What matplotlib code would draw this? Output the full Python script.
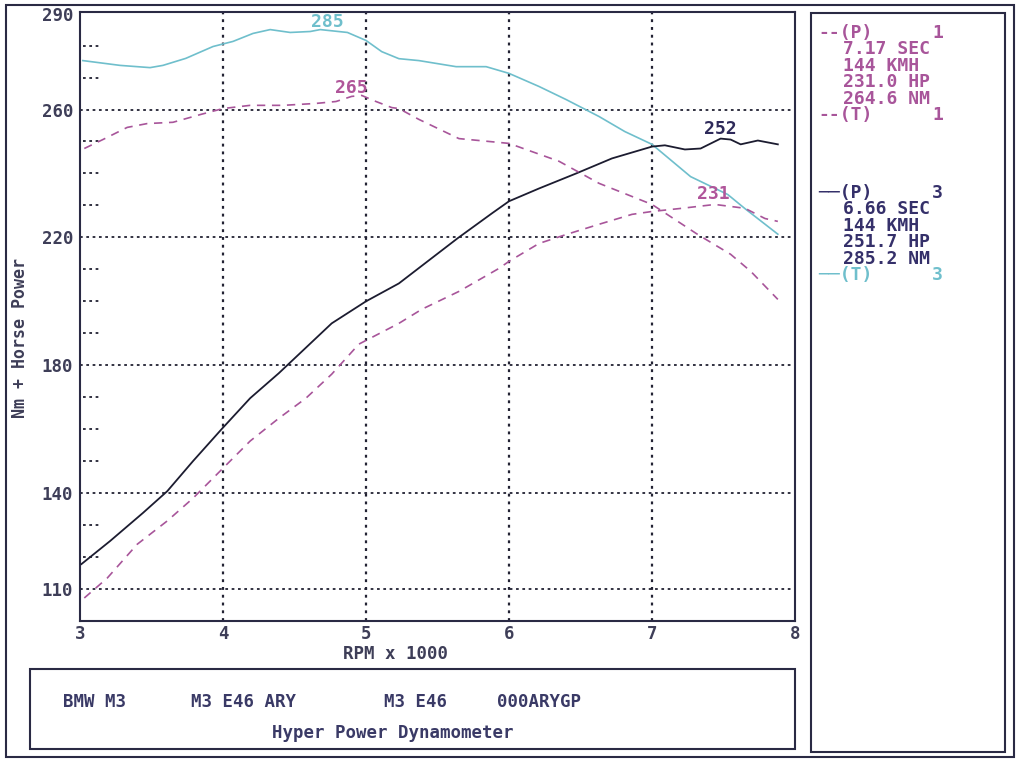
import numpy as np
import matplotlib.pyplot as plt
from matplotlib.patches import Rectangle

# dyno run 3 (solid power, cyan torque) and run 1 (dashed power + torque)
rpm_t3 = [3.02, 3.28, 3.49, 3.58, 3.74, 3.93, 4.07, 4.21, 4.33, 4.47, 4.61, 4.68,
          4.87, 5.0, 5.11, 5.23, 5.37, 5.63, 5.84, 6.0, 6.21, 6.40, 6.63, 6.81,
          7.0, 7.27, 7.53, 7.65, 7.88]
tq_t3 = [275.3, 273.8, 273.1, 273.8, 276.0, 279.7, 281.3, 283.8, 285.0, 284.1, 284.4, 285.0,
         284.1, 281.6, 278.1, 275.9, 275.3, 273.4, 273.4, 271.3, 267.2, 263.1, 257.8, 253.1,
         249.1, 239.0, 233.4, 229.0, 221.0]

rpm_p3 = [3.01, 3.21, 3.44, 3.61, 3.79, 3.99, 4.19, 4.39, 4.53, 4.76, 5.0, 5.23,
          5.64, 5.88, 6.0, 6.21, 6.47, 6.72, 7.0, 7.09, 7.23, 7.34, 7.48, 7.55,
          7.62, 7.74, 7.88]
hp_p3 = [117.8, 125.0, 133.8, 140.6, 150.0, 160.0, 169.7, 177.5, 183.4, 193.1, 200.0, 205.6,
         219.7, 227.5, 231.3, 235.3, 240.0, 244.7, 248.4, 248.8, 247.5, 247.8, 250.9, 250.6,
         249.1, 250.3, 249.1]

rpm_t1 = [3.03, 3.16, 3.33, 3.47, 3.65, 3.84, 4.0, 4.19, 4.42, 4.65, 4.79, 4.9,
          4.97, 5.07, 5.18, 5.23, 5.37, 5.65, 6.0, 6.35, 6.63, 7.0, 7.32, 7.55,
          7.69, 7.88]
tq_t1 = [247.8, 250.6, 254.4, 255.6, 256.0, 258.4, 260.3, 261.3, 261.3, 261.9, 262.5, 264.1,
         264.4, 262.5, 260.6, 260.3, 256.9, 250.9, 249.4, 243.8, 236.9, 230.3, 220.9, 214.7,
         209.4, 200.6]

rpm_p1 = [3.03, 3.19, 3.40, 3.61, 3.79, 3.98, 4.19, 4.39, 4.58, 4.76, 4.95, 5.23,
          5.39, 5.65, 5.93, 6.0, 6.21, 6.40, 6.63, 6.86, 7.0, 7.21, 7.44, 7.65,
          7.79, 7.88]
hp_p1 = [107.2, 113.4, 124.0, 131.3, 138.4, 146.9, 156.3, 163.4, 169.7, 177.2, 186.6, 193.1,
         197.5, 203.1, 210.3, 212.5, 218.1, 220.9, 224.1, 227.2, 228.1, 229.1, 230.3, 229.1,
         225.9, 225.0]

x_ticks = [3, 4, 5, 6, 7, 8]
y_ticks = [110, 140, 180, 220, 260, 290]
y_grid = [110, 140, 180, 220, 260]
y_minor = [120, 130, 150, 160, 170, 190, 200, 210, 230, 240, 250, 270, 280]

peak_labels = [("285", 4.73, 287.3, "#6fbfcc"), ("265", 4.90, 266.8, "#b0559a"),
               ("252", 7.48, 254.0, "#2e2a5a"), ("231", 7.43, 233.6, "#b0559a")]

legend1 = ["7.17 SEC", "144 KMH", "231.0 HP", "264.6 NM"]
legend3 = ["6.66 SEC", "144 KMH", "251.7 HP", "285.2 NM"]
info_row = [("BMW M3", 63), ("M3 E46 ARY", 191), ("M3 E46", 384), ("000ARYGP", 497)]

W, H = 1022, 770
MONO = "DejaVu Sans Mono"
FRAME = "#2a2a44"
MAG = "#a8559a"
NAVY = "#35306a"
CYAN = "#6fbfcc"


def fx(x):
    return x / W


def fy(y):
    return 1 - y / H


fig = plt.figure(figsize=(W / 100, H / 100), dpi=100)
fig.patch.set_facecolor("white")

# frames
def box(x0, y0, x1, y1, lw=1.5):
    fig.patches.append(Rectangle((fx(x0), fy(y1)), fx(x1) - fx(x0), fy(y0) - fy(y1),
                                 transform=fig.transFigure, fill=False,
                                 edgecolor=FRAME, linewidth=lw))

box(6, 5, 1014, 757)
box(30, 669, 795, 749)
box(811, 13, 1005, 752)

ax = fig.add_axes([fx(80), fy(621), fx(795) - fx(80), fy(12) - fy(621)])
ax.set_xlim(3, 8)
ax.set_ylim(100, 290.5)
for s in ax.spines.values():
    s.set_linewidth(1.5)
    s.set_color(FRAME)

for y in y_grid:
    ax.axhline(y, color="#222233", lw=1.3, ls=(0, (1.5, 2.0)), zorder=1)
for x in x_ticks[1:-1]:
    ax.axvline(x, color="#222233", lw=1.6, ls=(0, (1.3, 2.2)), zorder=1)
ax.hlines(y_minor, 0.004, 0.026, transform=ax.get_yaxis_transform(),
          color="#222233", lw=1.3, ls=(0, (1.5, 2.0)))

ax.plot(rpm_t3, tq_t3, color=CYAN, lw=1.2, zorder=3)
ax.plot(rpm_p3, hp_p3, color="#1c1c30", lw=1.3, zorder=3)
ax.plot(rpm_t1, tq_t1, color=MAG, lw=1.2, ls=(0, (5, 4)), zorder=3)
ax.plot(rpm_p1, hp_p1, color=MAG, lw=1.2, ls=(0, (5, 4)), zorder=3)

for txt, x, y, c in peak_labels:
    ax.text(x, y, txt, color=c, family=MONO, weight="bold", fontsize=13,
            ha="center", va="center", zorder=4)

ax.set_xticks(x_ticks)
ax.set_yticks(y_ticks)
ax.tick_params(length=0, labelsize=12.5, labelcolor="#3e3e58")
ax.tick_params(axis="y", pad=5)
ax.tick_params(axis="x", pad=3)
for lab in ax.get_xticklabels() + ax.get_yticklabels():
    lab.set_family(MONO)
    lab.set_weight("bold")

fig.text(fx(395), fy(654), "RPM x 1000", family=MONO, weight="bold", fontsize=12.5,
         color="#3e3e58", ha="center", va="center")
fig.text(fx(20), fy(338), "Nm + Horse Power", family=MONO, weight="bold", fontsize=12,
         color="#3e3e58", ha="center", va="center", rotation=90)

# info box
for txt, x in info_row:
    fig.text(fx(x), fy(702), txt, family=MONO, weight="bold", fontsize=12.5,
             color="#3a3a66", ha="left", va="center")
fig.text(fx(393), fy(733), "Hyper Power Dynamometer", family=MONO, weight="bold",
         fontsize=12.5, color="#3a3a66", ha="center", va="center")

# legend panel
def legend_block(y0, head_p, head_t, lines, num, c_p, c_t, c_text):
    step = 16.4
    fig.text(fx(818), fy(y0), head_p + "(P)", family=MONO, weight="bold", fontsize=13,
             color=c_p, va="center")
    fig.text(fx(943), fy(y0), num, family=MONO, weight="bold", fontsize=13,
             color=c_p, ha="right", va="center")
    for i, t in enumerate(lines):
        fig.text(fx(843), fy(y0 + step * (i + 1)), t, family=MONO, weight="bold",
                 fontsize=13, color=c_text, va="center")
    yt = y0 + step * (len(lines) + 1)
    fig.text(fx(818), fy(yt), head_t + "(T)", family=MONO, weight="bold", fontsize=13,
             color=c_t, va="center")
    fig.text(fx(943), fy(yt), num, family=MONO, weight="bold", fontsize=13,
             color=c_t, ha="right", va="center")

legend_block(33, "--", "--", legend1, "1", MAG, MAG, MAG)
legend_block(193, "\u2500\u2500", "\u2500\u2500", legend3, "3", NAVY, CYAN, NAVY)

fig.savefig("out.png", dpi=100)
